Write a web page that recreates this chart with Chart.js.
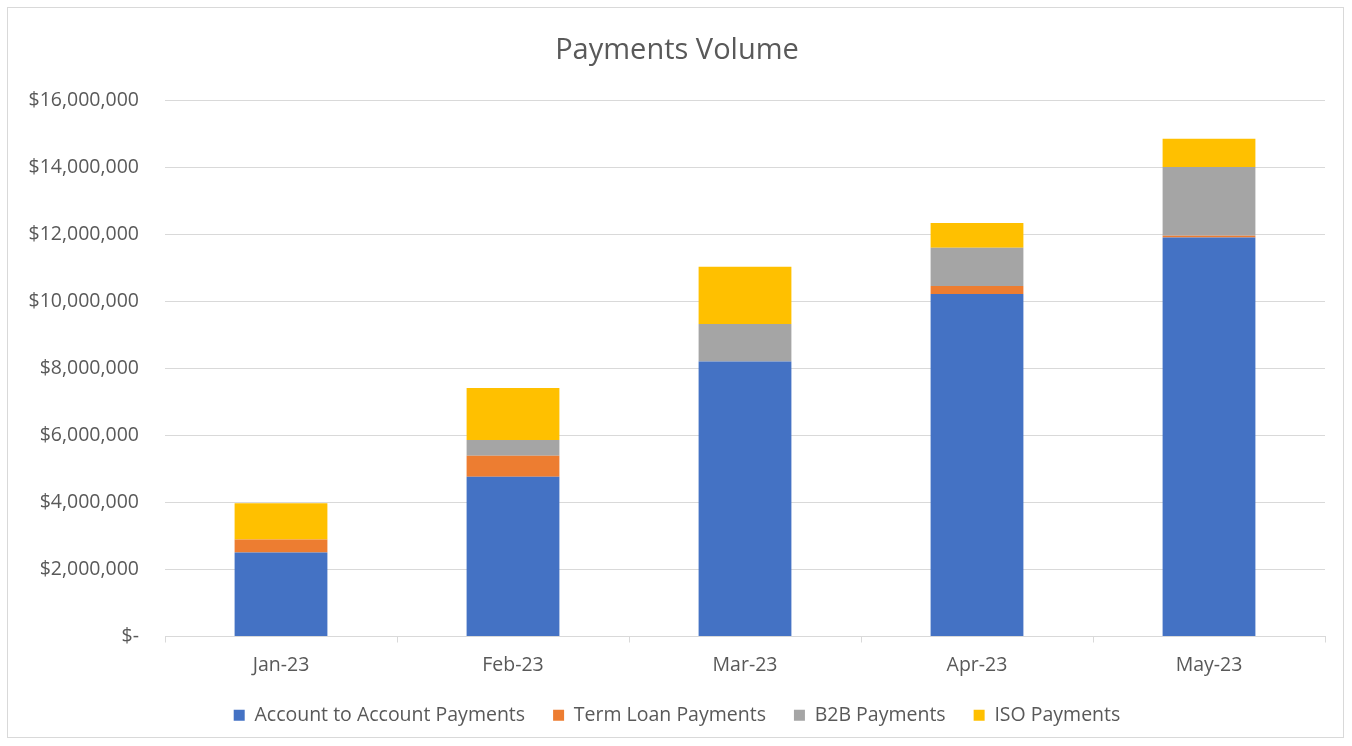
<!DOCTYPE html>
<html>
<head>
<meta charset="utf-8">
<title>Payments Volume</title>
<script src="https://cdn.jsdelivr.net/npm/chart.js@4.4.0/dist/chart.umd.min.js"></script>
<style>
    html, body { margin: 0; padding: 0; background: #ffffff; }
    #wrap {
        position: absolute;
        left: 7px; top: 7px;
        width: 1337px; height: 731px;
        border: 1px solid #d9d9d9;
        box-sizing: border-box;
    }
    #chart { display: block; }
</style>
</head>
<body>
<div id="wrap"><canvas id="chart"></canvas></div>
<script>
// Data
const months = ['Jan-23', 'Feb-23', 'Mar-23', 'Apr-23', 'May-23'];
const accountToAccount = [2510000, 4770000, 8210000, 10230000, 11920000];
const termLoan = [390000, 630000, 0, 240000, 50000];
const b2b = [0, 470000, 1120000, 1140000, 2050000];
const iso = [1080000, 1550000, 1710000, 740000, 850000];

const FONT = '"Open Sans", Lato, sans-serif';
const TEXT = '#595959';
const GRID = '#d9d9d9';

function money(v) {
    if (v === 0) return '$-';
    return '$' + v.toLocaleString('en-US');
}

const ctx = document.getElementById('chart').getContext('2d');
new Chart(ctx, {
    type: 'bar',
    data: {
        labels: months,
        datasets: [
            { label: 'Account to Account Payments', data: accountToAccount, backgroundColor: '#4472c4' },
            { label: 'Term Loan Payments', data: termLoan, backgroundColor: '#ed7d31' },
            { label: 'B2B Payments', data: b2b, backgroundColor: '#a5a5a5' },
            { label: 'ISO Payments', data: iso, backgroundColor: '#ffc000' }
        ]
    },
    options: {
        responsive: true,
        maintainAspectRatio: false,
        animation: false,
        barPercentage: 0.4,
        categoryPercentage: 1.0,
        layout: {
            padding: { left: 21, right: 18, top: 25, bottom: 2 }
        },
        plugins: {
            title: {
                display: true,
                text: 'Payments Volume',
                color: TEXT,
                font: { family: FONT, size: 29, weight: 'normal' },
                padding: { top: 0, bottom: 33 }
            },
            legend: {
                position: 'bottom',
                labels: {
                    color: TEXT,
                    font: { family: FONT, size: 19.5 },
                    boxWidth: 11,
                    boxHeight: 11,
                    padding: 28
                }
            },
            tooltip: { enabled: false }
        },
        scales: {
            x: {
                stacked: true,
                offset: true,
                // chart.js counts tick padding twice, trim it so the legend sits lower
                afterFit: function(axis) { axis.height = 41; },
                grid: {
                    offset: true,
                    drawOnChartArea: false,
                    drawTicks: true,
                    tickLength: 6,
                    color: GRID
                },
                border: { color: GRID },
                ticks: {
                    color: TEXT,
                    font: { family: FONT, size: 19.5 },
                    padding: 11
                }
            },
            y: {
                stacked: true,
                min: 0,
                max: 16000000,
                afterFit: function(axis) { axis.width = 136; },
                grid: { color: GRID, drawTicks: false },
                border: { display: false },
                ticks: {
                    stepSize: 2000000,
                    color: TEXT,
                    font: { family: FONT, size: 19.5 },
                    padding: 26,
                    callback: money
                }
            }
        }
    }
});
</script>
</body>
</html>
